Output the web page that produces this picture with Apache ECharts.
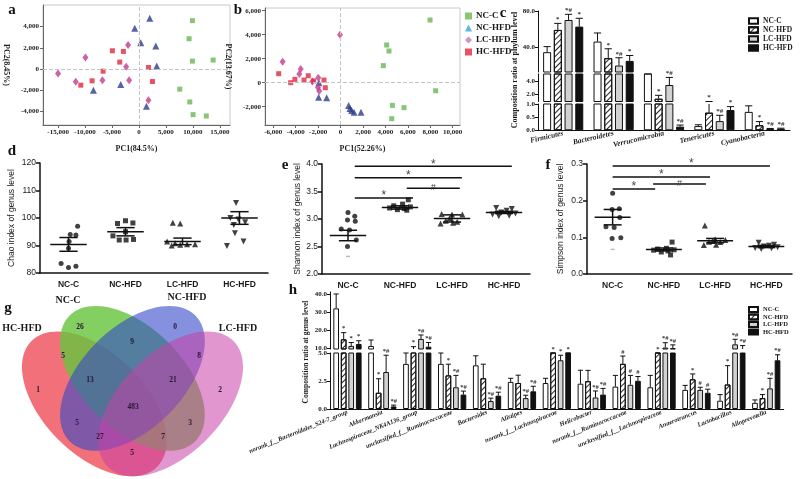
<!DOCTYPE html>
<html>
<head>
<meta charset="utf-8">
<script src="https://cdn.jsdelivr.net/npm/echarts@6.0.0/dist/echarts.min.js"></script>
<style>html,body{margin:0;padding:0;background:#fff;}#chart{width:800px;height:479px;}</style>
</head>
<body>
<div id="chart"></div>
<script>
// ================= DATA =================
const groups = ['NC-C', 'NC-HFD', 'LC-HFD', 'HC-HFD'];

// a: PCA (PC1 84.5%, PC2 8.45%)
const pcaA_NCC   = [[9930,4570],[9310,2860],[9930,740],[13770,840],[7580,-1910],[9440,-3120],[10050,-4320],[12500,-4450]];
const pcaA_NCHFD = [[2010,4790],[-770,3840],[340,2480],[3130,2170],[3310,270],[-3370,-1470],[-8440,-2010],[1390,-3530]];
const pcaA_LCHFD = [[-15000,-430],[-11720,-1220],[-9930,1090],[-6770,-1060],[-2010,2260],[-2380,210],[-1820,-1060],[1770,-2960]];
const pcaA_HCHFD = [[-10790,-1530],[-8690,-1120],[-6650,-210],[-4920,1720],[-3560,650],[-2880,1660],[1770,140],[2510,-1190]];
const pcaA_xTicks = [-15000,-10000,-5000,0,5000,10000,15000];
const pcaA_yTicks = [-4000,-2000,0,2000,4000];

// b: PCA (PC1 52.26%, PC2 13.67%)
const pcaB_NCC   = [[7980,5220],[4110,3140],[4320,2640],[3810,1420],[8480,-670],[4620,-1890],[5660,-2080],[4560,-3000]];
const pcaB_NCHFD = [[-1930,0],[-1960,-1220],[-1240,-1250],[720,-1890],[840,-2140],[990,-2310],[1200,-2470],[1820,-2470]];
const pcaB_LCHFD = [[-5170,1750],[-3560,1140],[-3680,720],[-1990,420],[-2020,-390],[-1900,-690],[-2520,110],[-50,4000]];
const pcaB_HCHFD = [[-5520,750],[-4450,0],[-4070,280],[-3260,220],[-2880,580],[-1480,220],[-1360,-420],[-2400,150]];
const pcaB_xTicks = [-6000,-4000,-2000,0,2000,4000,6000,8000,10000];
const pcaB_yTicks = [-2000,0,2000,4000,6000];

// c: phylum composition (%)
const phylumCats = ['Firmicutes','Bacteroidetes','Verrucomicrobia','Tenericutes','Cyanobacteria'];
const phylumNCC       = [34.1, 45.9, 5.3, 0.16, 0.70];
const phylumNCC_err   = [6.2, 9.6, 1.0, 0.05, 0.23];
const phylumNCC_sig   = ['', '', '', '', ''];
const phylumNCHFD     = [58.9, 27.4, 1.4, 0.67, 0.19];
const phylumNCHFD_err = [7.3, 10.5, 0.5, 0.33, 0.14];
const phylumNCHFD_sig = ['*', '*', '*', '*', '*'];
const phylumLCHFD     = [70.0, 19.2, 3.4, 0.35, 0.05];
const phylumLCHFD_err = [6.3, 8.7, 1.1, 0.22, 0.02];
const phylumLCHFD_sig = ['*#', '*#', '*#', '*#', '*#'];
const phylumHCHFD     = [62.6, 24.4, 0.14, 0.77, 0.06];
const phylumHCHFD_err = [9.3, 6.0, 0.06, 0.13, 0.02];
const phylumHCHFD_sig = ['*', '*', '*#', '*', '*#'];
const phylumTicksTop = [40, 80];
const phylumTicksMid = [2, 4];
const phylumTicksLow = [0, 0.5, 1];

// d: Chao index
const chaoNCC   = [97.0, 94.0, 93.8, 91.5, 89.0, 83.5, 82.5, 82.0];
const chaoNCHFD = [99.0, 98.0, 98.2, 95.0, 93.5, 92.0, 92.2, 92.0];
const chaoLCHFD = [98.3, 98.0, 91.5, 90.8, 90.5, 90.3, 90.0, 90.5];
const chaoHCHFD = [105.5, 100.0, 99.5, 98.5, 97.5, 94.5, 91.5, 89.8];
const chaoMean  = [90.4, 95.0, 91.5, 100.0];
const chaoSem   = [2.5, 1.5, 1.2, 2.3];
const chaoTicks = [80, 90, 100, 110, 120];

// e: Shannon index
const shannonNCC   = [3.12, 3.05, 2.98, 2.96, 2.82, 2.80, 2.62, 2.50];
const shannonNCHFD = [3.35, 3.27, 3.24, 3.22, 3.20, 3.19, 3.17, 3.16];
const shannonLCHFD = [3.09, 3.08, 3.08, 3.01, 2.97, 2.95, 2.93, 2.92];
const shannonHCHFD = [3.20, 3.18, 3.15, 3.12, 3.10, 3.08, 3.06, 3.05];
const shannonFaint = [2.32];
const shannonMean  = [2.70, 3.21, 3.01, 3.12];
const shannonSem   = [0.095, 0.03, 0.065, 0.02];
const shannonTicks = [2.0, 2.5, 3.0, 3.5, 4.0];
const shannonSig   = [[0.13, 3.15, 3.96, '*'], [0.13, 2.19, 3.75, '*'], [1.13, 2.15, 3.56, '#'], [0.13, 1.25, 3.38, '*']];

// f: Simpson index
const simpsonNCC   = [0.220, 0.178, 0.176, 0.154, 0.129, 0.127, 0.099, 0.097];
const simpsonNCHFD = [0.087, 0.070, 0.068, 0.066, 0.065, 0.063, 0.060, 0.052];
const simpsonLCHFD = [0.132, 0.095, 0.093, 0.090, 0.088, 0.087, 0.080, 0.079];
const simpsonHCHFD = [0.085, 0.080, 0.077, 0.075, 0.073, 0.071, 0.070, 0.068];
const simpsonFaint = [0.067];
const simpsonMean  = [0.155, 0.067, 0.091, 0.075];
const simpsonSem   = [0.021, 0.004, 0.006, 0.003];
const simpsonTicks = [0.0, 0.1, 0.2, 0.3];
const simpsonSig   = [[0.0, 3.07, 0.2945, '*'], [0.0, 1.9, 0.2645, '*'], [0.79, 1.82, 0.2455, '#'], [0.0, 0.83, 0.232, '*']];

// g: Venn counts (regions) and set names
const vennSetNames = ['HC-HFD', 'NC-C', 'NC-HFD', 'LC-HFD'];
const vennCounts = [1, 26, 0, 2, 5, 9, 8, 5, 13, 21, 3, 483, 27, 7, 5];

// h: genus composition (%)
const genusCats = ['norank_f__Bacteroidales_S24-7_group','Akkermansia','Lachnospiraceae_NK4A136_group','unclassified_f__Ruminococcaceae','Bacteroides','Alistipes','norank_f__Lachnospiraceae','Helicobacter','norank_f__Ruminococcaceae','unclassified_f__Lachnospiraceae','Anaerotruncus','Lactobacillus','Alloprevotella'];
const genusNCC       = [32.0, 11.1, 4.03, 4.03, 3.9, 2.42, 2.32, 2.26, 2.0, 1.94, 1.71, 0.74, 0.55];
const genusNCC_err   = [8.0, 3.3, 1.2, 1.2, 0.85, 0.32, 0.42, 1.2, 1.0, 1.06, 0.4, 0.55, 0.26];
const genusNCC_sig   = ['', '', '', '', '', '', '', '', '', '', '', '', ''];
const genusNCHFD     = [14.8, 1.45, 8.5, 3.0, 2.74, 2.32, 6.5, 2.48, 4.03, 7.5, 2.65, 2.19, 0.97];
const genusNCHFD_err = [3.7, 1.25, 2.2, 1.0, 1.26, 0.7, 0.8, 0.97, 0.7, 0.8, 0.48, 1.68, 0.32];
const genusNCHFD_sig = ['*', '*', '*', '*', '', '', '*', '', '#', '*', '*', '*', '*'];
const genusLCHFD     = [11.1, 3.3, 15.0, 1.94, 0.71, 0.97, 4.35, 1.03, 2.16, 10.2, 1.71, 12.0, 1.84];
const genusLCHFD_err = [1.9, 1.5, 2.2, 1.06, 0.26, 0.26, 0.45, 0.58, 0.84, 2.7, 0.23, 2.8, 0.9];
const genusLCHFD_sig = ['*', '*#', '*#', '*#', '*#', '*#', '*', '*#', '#', '*#', '#', '*#', '*#'];
const genusHCHFD     = [12.2, 0.23, 10.7, 1.29, 1.19, 1.58, 6.8, 1.29, 2.52, 9.9, 1.45, 9.4, 4.35];
const genusHCHFD_err = [1.8, 0.12, 2.3, 0.31, 0.31, 0.45, 0.8, 0.55, 0.38, 1.8, 0.32, 1.9, 0.49];
const genusHCHFD_sig = ['*', '*#', '*#', '*#', '*#', '*#', '*', '*#', '#', '*#', '#', '*#', '*#'];
const genusTicksTop = [10, 20, 30, 40];
const genusTicksLow = [0, 2.5, 5.0];

// ================= LAYOUT / STYLE =================
const SERIF = "'Liberation Serif','Times New Roman',Times,serif";
const SANS = "'Liberation Sans',Arial,Helvetica,sans-serif";
const INK = '#1a1a1a';
const pcaStyle = [
  {symbol: 'rect', size: 5, color: '#6cb552', legendColor: '#6cb552'},
  {symbol: 'triangle', size: 7, color: '#2d3c8c', legendColor: '#3aa3d6'},
  {symbol: 'diamond', size: [6, 8], color: '#c23b8e', legendColor: '#c878b4'},
  {symbol: 'rect', size: 5, color: '#e0283f', legendColor: '#e0283f'}
];
const dotSymbols = ['circle', 'rect', 'triangle', 'path://M0,0L10,0L5,9Z'];
const dotSizes = [5, 5, 6, 6];
const jitter = [
  [0.16, 0.03, 0.13, 0.01, 0.0, -0.13, 0.13, 0.0],
  [0.0, -0.14, 0.13, 0.0, -0.22, -0.11, 0.14, 0.01],
  [-0.17, -0.04, -0.27, -0.13, 0.08, -0.04, -0.19, 0.22],
  [-0.06, -0.16, -0.02, 0.1, -0.1, -0.08, 0.07, -0.22]
];
const jitterE = [
  [0.0, 0.13, -0.01, 0.14, -0.13, 0.03, 0.16, -0.01],
  [0.16, 0.05, -0.12, 0.2, -0.2, 0.08, -0.05, 0.13],
  [-0.2, 0.0, 0.2, -0.05, -0.12, 0.1, 0.02, -0.22],
  [-0.15, 0.15, 0.05, -0.05, 0.22, -0.22, 0.1, -0.1]
];
const barStyle = [
  {color: '#ffffff', borderColor: '#111', borderWidth: 1},
  {color: '#ffffff', borderColor: '#111', borderWidth: 1,
    decal: {symbol: 'rect', symbolSize: 1, color: '#222', dashArrayX: [1, 0], dashArrayY: [1, 2.2], rotation: -Math.PI / 4}},
  {color: '#d2d2d2', borderColor: '#111', borderWidth: 1},
  {color: '#111111', borderColor: '#111', borderWidth: 1}
];

// ================= BUILD =================
const grid = [], xAxis = [], yAxis = [], series = [], legend = [], graphic = [];
function addGrid(l, t, w, h) {
  grid.push({left: l, top: t, width: w, height: h, containLabel: false, outerBoundsMode: 'none'});
  return grid.length - 1;
}
const fmtK = v => Math.round(v).toLocaleString('en-US');
const serifBold = (s) => ({fontFamily: SERIF, fontWeight: 'bold', fontSize: s, color: INK});

// ---- PCA panels ----
function pcaPanel(box, xr, yr, xt, yt, xName, yName, sets, prefix) {
  const gi = addGrid(box[0], box[1], box[2], box[3]);
  grid[gi].show = true; grid[gi].borderColor = '#c8c8c8'; grid[gi].borderWidth = 1;
  xAxis.push({gridIndex: gi, type: 'value', min: xr[0], max: xr[1],
    axisLine: {show: true, onZero: false, lineStyle: {color: '#666', width: 1}},
    axisTick: {show: true, customValues: xt, length: 3, lineStyle: {color: '#666'}},
    axisLabel: Object.assign({customValues: xt, formatter: fmtK, margin: 4}, serifBold(7)),
    splitLine: {show: false},
    name: xName, nameLocation: 'middle', nameGap: 20, nameTextStyle: serifBold(8)});
  yAxis.push({gridIndex: gi, type: 'value', min: yr[0], max: yr[1],
    axisLine: {show: true, onZero: false, lineStyle: {color: '#666', width: 1}},
    axisTick: {show: true, customValues: yt, length: 3, lineStyle: {color: '#666'}},
    axisLabel: Object.assign({customValues: yt, formatter: fmtK, margin: 4}, serifBold(7)),
    splitLine: {show: false},
    name: yName, nameLocation: 'middle', nameGap: 33, nameRotate: -90, nameTextStyle: serifBold(8)});
  const xi = xAxis.length - 1, yi = yAxis.length - 1;
  sets.forEach((d, g) => {
    const st = pcaStyle[g];
    const s = {type: 'scatter', name: prefix + groups[g], xAxisIndex: xi, yAxisIndex: yi, data: d,
      symbol: st.symbol, symbolSize: st.size, itemStyle: {color: st.color}, silent: true, z: 3};
    if (g === 0) {
      s.markLine = {silent: true, symbol: ['none', 'none'], label: {show: false},
        lineStyle: {type: 'dashed', color: '#c4c4c4', width: 1}, data: [{xAxis: 0}, {yAxis: 0}]};
    }
    series.push(s);
  });
}
pcaPanel([43, 5, 187, 120], [-17800, 16900], [-5300, 6050], pcaA_xTicks, pcaA_yTicks,
  'PC1(84.5%)', 'PC2(8.45%)', [pcaA_NCC, pcaA_NCHFD, pcaA_LCHFD, pcaA_HCHFD], 'a:');
pcaPanel([265, 8, 195, 117], [-6740, 10650], [-3525, 6225], pcaB_xTicks, pcaB_yTicks,
  'PC1(52.26%)', 'PC2(13.67%)', [pcaB_NCC, pcaB_NCHFD, pcaB_LCHFD, pcaB_HCHFD], 'b:');
legend.push({left: 460, top: 6, orient: 'vertical', selectedMode: false, itemGap: 2, itemWidth: 7, itemHeight: 7,
  formatter: n => n.slice(2), textStyle: Object.assign({padding: [0, 0, 0, -1], lineHeight: 10}, serifBold(9)),
  data: groups.map((g, i) => ({name: 'b:' + g, icon: pcaStyle[i].symbol, itemStyle: {color: pcaStyle[i].legendColor}}))});

// ---- broken-axis grouped bar panels ----
function brokenBars(cfg) {
  const segs = cfg.segs; // bottom first
  segs.forEach((seg, k) => {
    const gi = addGrid(cfg.left, seg.top, cfg.width, seg.height);
    xAxis.push({gridIndex: gi, type: 'category', data: cfg.cats, show: k === 0,
      axisLine: {show: true, onZero: false, lineStyle: {color: '#111', width: 1}},
      axisTick: {show: false},
      axisLabel: {interval: 0, rotate: cfg.rotate, margin: 3, fontFamily: SERIF, fontWeight: 'bold',
        fontStyle: 'italic', fontSize: cfg.catSize, color: INK}});
    yAxis.push({gridIndex: gi, type: 'value', min: seg.min, max: seg.max,
      axisLine: {show: true, onZero: false, lineStyle: {color: '#111', width: 1}},
      axisTick: {show: true, customValues: seg.ticks, length: 3, lineStyle: {color: '#111'}},
      axisLabel: Object.assign({customValues: seg.ticks, formatter: v => v.toFixed(1), margin: 3}, serifBold(cfg.tickSize)),
      splitLine: {show: false}});
    const xi = xAxis.length - 1, yi = yAxis.length - 1;
    groups.forEach((g, gIdx) => {
      series.push({type: 'bar', name: cfg.prefix + g, xAxisIndex: xi, yAxisIndex: yi, data: cfg.vals[gIdx],
        barWidth: cfg.barW, barGap: (cfg.gapFrac * 100) + '%', itemStyle: barStyle[gIdx], silent: true, clip: true});
    });
    groups.forEach((g, gIdx) => {
      const off = (gIdx - 1.5) * cfg.barW * (1 + cfg.gapFrac);
      const vals = cfg.vals[gIdx], errs = cfg.errs[gIdx], sigs = cfg.sigs[gIdx];
      series.push({type: 'custom', name: cfg.prefix + 'err' + gIdx, xAxisIndex: xi, yAxisIndex: yi, silent: true, z: 4,
        data: vals.map((v, i) => [i, v, errs[i]]),
        renderItem: function (params, api) {
          const i = api.value(0), v = api.value(1), e = api.value(2);
          const topV = v + e;
          let host = 0;
          for (let s = 0; s < segs.length; s++) if (topV >= segs[s].min) host = s;
          const cx = api.coord([i, seg.min])[0] + off;
          const ch = [];
          const lo = Math.max(v, seg.min), hi = Math.min(topV, seg.max);
          if (hi > lo) ch.push({type: 'line', shape: {x1: cx, y1: api.coord([i, lo])[1], x2: cx, y2: api.coord([i, hi])[1]},
            style: {stroke: '#111', lineWidth: 1}});
          if (host === k) {
            const capY = api.coord([i, Math.min(topV, seg.max)])[1];
            ch.push({type: 'line', shape: {x1: cx - cfg.barW * 0.45, y1: capY, x2: cx + cfg.barW * 0.45, y2: capY},
              style: {stroke: '#111', lineWidth: 1}});
            const sg = sigs[params.dataIndex];
            if (sg) ch.push({type: 'text', x: cx, y: capY - 0.5,
              style: {text: sg, fill: '#333', font: 'bold ' + cfg.sigSize + 'px ' + SERIF, align: 'center', verticalAlign: 'bottom'}});
          }
          return {type: 'group', children: ch};
        }});
    });
  });
}
brokenBars({prefix: 'c:', cats: phylumCats, left: 538, width: 252, barW: 8, gapFrac: 0.34, rotate: 13, catSize: 7.5,
  tickSize: 7, sigSize: 7,
  segs: [{top: 104, height: 26.3, min: 0, max: 1, ticks: phylumTicksLow},
         {top: 74, height: 27.5, min: 1, max: 5, ticks: phylumTicksMid},
         {top: 11, height: 61, min: 12, max: 80, ticks: phylumTicksTop}],
  vals: [phylumNCC, phylumNCHFD, phylumLCHFD, phylumHCHFD],
  errs: [phylumNCC_err, phylumNCHFD_err, phylumLCHFD_err, phylumHCHFD_err],
  sigs: [phylumNCC_sig, phylumNCHFD_sig, phylumLCHFD_sig, phylumHCHFD_sig]});
legend.push({left: 743, top: 12, orient: 'vertical', selectedMode: false, itemGap: 1, itemWidth: 9, itemHeight: 5.5,
  formatter: n => n.slice(2), textStyle: Object.assign({lineHeight: 8}, serifBold(7.5)),
  data: groups.map(g => ({name: 'c:' + g, icon: 'rect'}))});

brokenBars({prefix: 'h:', cats: genusCats, left: 330, width: 453.7, barW: 5.7, gapFrac: 0.32, rotate: 22, catSize: 6.5,
  tickSize: 7, sigSize: 6.5,
  segs: [{top: 353, height: 56, min: 0, max: 5, ticks: genusTicksLow},
         {top: 292, height: 57, min: 9.4, max: 41.1, ticks: genusTicksTop}],
  vals: [genusNCC, genusNCHFD, genusLCHFD, genusHCHFD],
  errs: [genusNCC_err, genusNCHFD_err, genusLCHFD_err, genusHCHFD_err],
  sigs: [genusNCC_sig, genusNCHFD_sig, genusLCHFD_sig, genusHCHFD_sig]});
legend.push({left: 743, top: 301, orient: 'vertical', selectedMode: false, itemGap: 0.5, itemWidth: 9, itemHeight: 5,
  formatter: n => n.slice(2), textStyle: Object.assign({lineHeight: 7}, serifBold(6.5)),
  data: groups.map(g => ({name: 'h:' + g, icon: 'rect'}))});

// ---- dot-plot panels ----
function dotPanel(cfg) {
  const gi = addGrid(cfg.box[0], cfg.box[1], cfg.box[2], cfg.box[3]);
  xAxis.push({gridIndex: gi, type: 'value', min: -0.5, max: 3.5,
    axisLine: {show: true, onZero: false, lineStyle: {color: '#111', width: 1.5}},
    axisTick: {show: false},
    axisLabel: {customValues: [0, 1, 2, 3], formatter: v => groups[Math.round(v)], margin: 7,
      fontFamily: SANS, fontWeight: 'bold', fontSize: 8.5, color: INK},
    splitLine: {show: false}});
  yAxis.push({gridIndex: gi, type: 'value', min: cfg.ticks[0], max: cfg.ticks[cfg.ticks.length - 1],
    axisLine: {show: true, onZero: false, lineStyle: {color: '#111', width: 1.5}},
    axisTick: {show: true, customValues: cfg.ticks, length: 4, lineStyle: {color: '#111', width: 1.5}},
    axisLabel: {customValues: cfg.ticks, formatter: cfg.fmt, margin: 4, fontFamily: SANS, fontSize: 8.5, color: INK},
    splitLine: {show: false},
    name: cfg.yName, nameLocation: 'middle', nameGap: cfg.nameGap, nameTextStyle: {fontFamily: SANS, fontSize: 8.5, color: INK}});
  const xi = xAxis.length - 1, yi = yAxis.length - 1;
  cfg.data.forEach((arr, g) => {
    series.push({type: 'scatter', name: cfg.prefix + groups[g], xAxisIndex: xi, yAxisIndex: yi, silent: true, z: 3,
      data: arr.map((v, k) => [g + cfg.jit[g][k], v]), symbol: dotSymbols[g], symbolSize: dotSizes[g],
      itemStyle: {color: '#111'}});
  });
  if (cfg.faint) series.push({type: 'scatter', name: cfg.prefix + 'faint', xAxisIndex: xi, yAxisIndex: yi, silent: true,
    data: cfg.faint.map(v => [0, v]), symbol: 'rect', symbolSize: [4, 1.5], itemStyle: {color: '#aaa'}});
  series.push({type: 'custom', name: cfg.prefix + 'mean', xAxisIndex: xi, yAxisIndex: yi, silent: true, z: 5,
    data: cfg.means.map((m, g) => [g, m, cfg.sems[g]]),
    renderItem: function (params, api) {
      const g = api.value(0), m = api.value(1), s = api.value(2);
      const pl = api.coord([g - cfg.mw, m]), pr = api.coord([g + cfg.mw, m]);
      const up = api.coord([g, m + s]), dn = api.coord([g, m - s]);
      const hw = (pr[0] - pl[0]) * 0.25;
      const cx = (pl[0] + pr[0]) / 2;
      const st = {stroke: '#111', lineWidth: 1.5};
      return {type: 'group', children: [
        {type: 'line', shape: {x1: pl[0], y1: pl[1], x2: pr[0], y2: pr[1]}, style: st},
        {type: 'line', shape: {x1: cx, y1: up[1], x2: cx, y2: dn[1]}, style: st},
        {type: 'line', shape: {x1: cx - hw, y1: up[1], x2: cx + hw, y2: up[1]}, style: st},
        {type: 'line', shape: {x1: cx - hw, y1: dn[1], x2: cx + hw, y2: dn[1]}, style: st}
      ]};
    }});
  if (cfg.sig) {
    const sig = cfg.sig;
    series.push({type: 'custom', name: cfg.prefix + 'sig', xAxisIndex: xi, yAxisIndex: yi, silent: true, z: 5,
      data: sig.map(a => [a[0], a[2]]),
      renderItem: function (params, api) {
        const a = sig[params.dataIndex];
        const p1 = api.coord([a[0], a[2]]), p2 = api.coord([a[1], a[2]]);
        return {type: 'group', children: [
          {type: 'line', shape: {x1: p1[0], y1: p1[1], x2: p2[0], y2: p2[1]}, style: {stroke: '#111', lineWidth: 1.5}},
          {type: 'text', x: (p1[0] + p2[0]) / 2, y: p1[1] + 4,
            style: {text: a[3], fill: '#444', font: (a[3] === '#' ? '9px ' : '12px ') + SANS, align: 'center', verticalAlign: 'bottom'}}
        ]};
      }});
  }
}
dotPanel({prefix: 'd:', box: [40, 163, 228, 110], ticks: chaoTicks, fmt: v => String(v), yName: 'Chao index of genus level',
  nameGap: 24, data: [chaoNCC, chaoNCHFD, chaoLCHFD, chaoHCHFD], jit: jitter, means: chaoMean, sems: chaoSem, mw: 0.32});
dotPanel({prefix: 'e:', box: [322, 164, 208, 110], ticks: shannonTicks, fmt: v => v.toFixed(1), yName: 'Shannon index of genus level',
  nameGap: 20, data: [shannonNCC, shannonNCHFD, shannonLCHFD, shannonHCHFD], jit: jitterE, means: shannonMean,
  sems: shannonSem, mw: 0.35, sig: shannonSig, faint: shannonFaint});
dotPanel({prefix: 'f:', box: [587, 164, 205, 110], ticks: simpsonTicks, fmt: v => v.toFixed(1), yName: 'Simpson index of genus level',
  nameGap: 22, data: [simpsonNCC, simpsonNCHFD, simpsonLCHFD, simpsonHCHFD], jit: jitterE, means: simpsonMean,
  sems: simpsonSem, mw: 0.35, sig: simpsonSig, faint: simpsonFaint});

// ---- Venn (g) ----
const vennShapes = [
  {cx: 94.4, cy: 403.8, rot: -Math.PI / 4, fill: 'rgba(238,80,92,0.82)'},
  {cx: 132.5, cy: 378.4, rot: -Math.PI / 4, fill: 'rgba(104,196,64,0.82)'},
  {cx: 132.5, cy: 378.4, rot: Math.PI / 4, fill: 'rgba(52,72,200,0.6)'},
  {cx: 170.6, cy: 403.8, rot: Math.PI / 4, fill: 'rgba(200,64,168,0.55)'}
];
const vennRx = 88.9, vennRy = 50.8;
const vennLabelXY = [[38,390],[80,327],[175,327],[220,390],[63,356],[132,342],[199,356],[77,423],[90,380],[173,380],[190,423],[133,407],[100,437],[163,437],[132,453]];
const vennNameXY = [[22,328],[68,300],[187,297],[238,328]];
vennShapes.forEach(s => graphic.push({type: 'ellipse', x: s.cx, y: s.cy, rotation: s.rot, silent: true,
  shape: {cx: 0, cy: 0, rx: vennRx, ry: vennRy}, style: {fill: s.fill}}));
vennCounts.forEach((c, i) => graphic.push({type: 'text', x: vennLabelXY[i][0], y: vennLabelXY[i][1], silent: true,
  style: {text: String(c), font: 'bold 7.5px ' + SERIF, fill: '#2a1530', align: 'center', verticalAlign: 'middle'}}));
vennSetNames.forEach((n, i) => graphic.push({type: 'text', x: vennNameXY[i][0], y: vennNameXY[i][1], silent: true,
  style: {text: n, font: 'bold 10px ' + SERIF, fill: INK, align: 'center', verticalAlign: 'middle'}}));

// ---- panel letters and free titles ----
[['a', 12, 10], ['b', 238, 10], ['c', 503, 13], ['d', 12, 151], ['e', 285, 165], ['f', 548, 165], ['g', 8, 308], ['h', 293, 290]]
  .forEach(t => graphic.push({type: 'text', x: t[1], y: t[2], silent: true,
    style: {text: t[0], font: 'bold 15px ' + SERIF, fill: '#111', align: 'center', verticalAlign: 'middle'}}));
graphic.push({type: 'text', x: 515, y: 70, rotation: Math.PI / 2, silent: true,
  style: {text: 'Composition ratio at phylum level', font: 'bold 8px ' + SERIF, fill: INK, align: 'center', verticalAlign: 'middle'}});
graphic.push({type: 'text', x: 306, y: 352, rotation: Math.PI / 2, silent: true,
  style: {text: 'Composition ratio at genus level', font: 'bold 7.5px ' + SERIF, fill: INK, align: 'center', verticalAlign: 'middle'}});

const chart = echarts.init(document.getElementById('chart'), null, {renderer: 'canvas', width: 800, height: 479});
chart.setOption({
  animation: false,
  backgroundColor: '#ffffff',
  grid, xAxis, yAxis, series, legend, graphic
});
</script>
</body>
</html>
